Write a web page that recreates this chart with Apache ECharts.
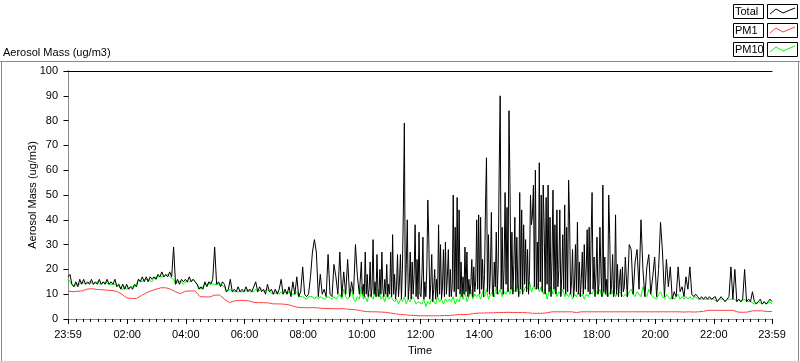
<!DOCTYPE html>
<html><head><meta charset="utf-8">
<script src="https://cdn.jsdelivr.net/npm/echarts@6/dist/echarts.min.js"></script>
<style>html,body{margin:0;padding:0;background:#fff}#c{width:800px;height:361px}</style>
</head><body><div id="c"></div>
<script>
// ---- data (minutes from midnight; the day runs 23:59 -> 23:59) ----
const START_MIN = -1, END_MIN = 1439;

// Total: 23:59 -> 09:59, every 4 minutes
const totalEarlyStart = -1, totalEarlyStep = 4;
const totalEarly = [
 17,18,14,13,15,13,16,14,16,14,15,14,16,14,15,
 14,16,14,15,14,16,14,15,14,16,13,14,12,14,12,
 14,12,13,12,14,13,16,15,17,15,17,15,17,16,17,
 16,18,17,19,17,18,17,19,17,29,14,16,14,16,15,
 16,15,17,15,16,15,14,12,13,12,15,13,15,14,16,
 29,14,15,13,15,14,11,12,16,11,12,11,13,11,12,
 11,13,11,12,11,13,15,11,13,11,12,10,14,11,12,
 10,12,10,12,16,10,12,10,13,9,15,10,17,9,11,
 21,10,9,10,17,27,32,27,9,18,10,12,9,26,10,
 9,22,17,10,27,9,19,10,24,9,15,10,30,17,10,
 23
];
// Total: 10:01 -> 18:59, every 2 minutes
const totalMidStart = 601, totalMidStep = 2;
const totalMid = [
 10,14,9,27,10,18,9,12,23,9,13,32,10,15,9,26,11,9,20,10,27,12,9,16,10,22,9,14,10,27,
 9,34,10,18,8,13,26,9,15,26,8,20,44,79,9,22,40,8,14,27,8,23,10,18,38,9,24,8,35,10,
 9,18,33,8,15,9,21,48,32,8,14,26,7,12,20,8,16,9,38,10,30,8,13,28,9,31,10,17,28,9,
 20,9,14,50,11,37,9,49,12,44,10,23,9,17,10,29,11,27,9,16,10,14,24,9,21,11,15,40,12,42,
 10,41,12,24,9,18,46,65,11,34,10,19,43,12,9,23,13,35,10,22,60,90,12,37,10,20,51,14,45,11,
 84,55,12,35,10,22,41,11,33,13,9,51,12,44,10,38,14,32,11,28,10,19,50,38,42,54,13,60,12,31,
 12,63,15,50,11,54,36,10,49,14,54,11,41,9,24,52,12,38,10,44,13,20,44,9,17,34,12,46,10,37,
 11,56,40,10,15,28,9,13,30,11,39,10,23,9,16,27,10,30,12,20,36,11,37,10,33,51,12,25,9,18,
 33,10,14,37,20,9,54,11,25,10,16,9,50,34,10,14,26,9,12,42,10,22,9,15,20,9,21,11,13,25
];
// Total: 19:03 -> 23:59, every 4 minutes
const totalLateStart = 1143, totalLateStep = 4;
const totalLate = [
 9,30,28,10,23,28,12,40,20,9,21,26,10,17,
 25,9,20,39,27,9,24,13,21,8,11,9,21,11,13,
 9,17,12,21,10,9,10,9,8,9,8,9,8,9,8,
 8,9,7,8,9,8,7,8,9,21,8,20,7,8,7,
 8,20,7,8,7,11,7,6,7,8,6,7,6,7,8,7
];
// PM10: every 4 minutes, 23:59 -> 23:59
const pm10Start = -1, pm10Step = 4;
const pm10Vals = [
 16,16,14,13,14,14,14,15,15,14,14,15,15,14,14,
 15,15,14,14,15,15,14,14,14,14,14,13,13,12,13,
 12,12,13,13,13,14,16,16,15,16,16,16,16,15,16,
 17,17,17,17,17,17,18,17,17,16,14,15,15,15,14,
 15,15,15,15,16,15,14,13,12,13,14,14,14,15,14,
 14,14,14,14,14,13,11,11,12,11,11,11,11,11,11,
 11,11,12,11,11,11,12,11,11,12,11,11,12,11,11,
 10,10,11,10,11,10,11,10,11,10,10,10,11,9,9,
 9,9,8,9,9,9,8,9,8,9,9,8,8,9,9,
 8,9,8,9,10,8,12,9,8,9,12,8,7,9,8,
 13,8,9,7,10,9,8,11,9,12,8,9,7,10,8,
 9,8,7,8,6,8,7,9,6,8,7,9,8,6,7,
 7,6,8,5,7,6,8,7,6,9,7,8,6,8,7,
 8,7,9,6,8,7,10,8,11,7,9,12,8,10,9,
 10,8,11,9,12,8,10,11,9,13,10,12,9,11,10,
 12,10,13,11,12,14,10,12,11,13,12,15,11,13,12,
 14,11,13,10,12,8,11,13,10,12,9,11,10,12,9,
 10,9,11,8,10,9,11,9,10,8,10,9,11,10,12,
 11,10,12,9,11,10,9,11,10,12,9,10,11,10,9,
 10,9,11,12,10,9,11,10,9,13,10,9,12,10,9,
 9,8,10,11,9,8,10,9,8,9,8,9,10,8,9,
 8,9,8,9,8,8,9,8,8,8,8,8,8,8,8,
 8,8,7,8,8,8,7,8,8,8,8,8,7,8,7,
 7,8,7,7,7,7,6,6,7,7,6,7,6,6,7,6
];
// PM1: every 10 minutes, 23:59 -> 23:59
const pm1Start = -1, pm1Step = 10;
const pm1Vals = [
 11.3,11.0,11.2,11.4,12.1,12.2,
 11.9,11.8,11.6,11.5,11.1,10.0,
 8.5,8.3,8.3,9.4,10.5,11.4,
 12.0,12.6,12.6,12.0,11.0,10.2,
 11.2,11.3,11.3,9.0,8.9,8.9,
 9.6,9.7,8.0,6.6,7.3,7.5,
 7.5,7.3,6.7,6.6,6.6,6.5,
 6.1,6.1,6.0,5.8,5.2,4.7,
 4.6,4.5,4.6,4.5,4.3,4.2,
 4.2,4.1,4.2,4.0,3.8,3.7,
 3.3,3.0,2.9,2.9,2.8,2.7,
 2.4,2.1,1.8,1.7,1.5,1.4,
 1.3,1.3,1.3,1.3,1.3,1.4,
 1.4,1.6,1.8,1.8,1.9,2.2,
 2.4,2.4,2.5,2.5,2.6,2.6,
 2.7,2.6,2.6,2.6,2.5,2.3,
 2.3,2.3,2.5,2.9,2.9,2.9,
 2.9,2.9,2.6,2.9,2.9,2.9,
 2.9,2.9,2.9,2.9,2.9,2.9,
 2.9,2.9,2.9,2.9,2.9,2.9,
 2.9,2.9,2.9,2.9,2.9,2.9,
 2.8,2.9,2.8,2.9,3.1,3.5,
 3.5,3.5,3.5,3.5,3.5,2.8,
 2.7,2.8,3.3,3.3,3.3,3.0,3.0
];
const xLabelValues = [-1,120,240,360,480,600,720,840,960,1080,1200,1320,1439];
const yMin = 0, yMax = 100, yInterval = 10;
const seriesNames = ['Total','PM1','PM10'];
const seriesColors = {Total:'#000000', PM1:'#ff4040', PM10:'#00ff00'};

// ---- build ----
function pairs(vals, start, step){ return vals.map((v,i)=>[start + i*step, v]); }
const totalData = pairs(totalEarly, totalEarlyStart, totalEarlyStep)
  .concat(pairs(totalMid, totalMidStart, totalMidStep))
  .concat(pairs(totalLate, totalLateStart, totalLateStep));
const minorTicks = [-1]; for (let m=0; m<=1425; m+=15) minorTicks.push(m); minorTicks.push(1439);
const pad = n => (n<10?'0':'')+n;
const fmtTime = v => (v<0 || v>=1439) ? '23:59' : pad(Math.floor(v/60))+':'+pad(v%60);
const FONT = 'Liberation Sans';
const txt = {fontFamily:FONT, fontSize:11, color:'#000'};

const chart = echarts.init(document.getElementById('c'), null, {renderer:'canvas'});
const legendRows = seriesNames.map((n,k)=>{
  const y0 = 4 + k*19;
  const c = seriesColors[n];
  return [
    {type:'rect', shape:{x:733.5,y:y0+0.5,width:30,height:14}, style:{fill:'#fff',stroke:'#000',lineWidth:1}},
    {type:'text', x:735, y:y0+2, style:{text:n, font:'11px '+FONT, fill:'#000'}},
    {type:'rect', shape:{x:767.5,y:y0+0.5,width:30,height:14}, style:{fill:'#fff',stroke:'#000',lineWidth:1}},
    {type:'polyline', shape:{points:[[770,y0+10],[776,y0+5],[783,y0+9],[790,y0+6],[795,y0+4]]}, style:{stroke:c,lineWidth:1,fill:null}}
  ];
}).flat();

chart.setOption({
  animation:false,
  backgroundColor:'#fff',
  grid:{left:68, top:71, width:704, height:250.5, containLabel:false},
  xAxis:[
    {type:'value', min:START_MIN, max:END_MIN, position:'bottom',
     name:'Time', nameLocation:'middle', nameGap:26, nameMoveOverlap:false, nameTextStyle:txt,
     axisLine:{show:true, lineStyle:{color:'#8a8a8a', width:1}},
     axisTick:{show:true, customValues:xLabelValues, length:5, lineStyle:{color:'#000'}},
     axisLabel:{show:true, customValues:xLabelValues, formatter:fmtTime, margin:10, ...txt, showMinLabel:true, showMaxLabel:true},
     splitLine:{show:false}},
    {type:'value', min:START_MIN, max:END_MIN, position:'bottom', gridIndex:0,
     axisLine:{show:false}, axisLabel:{show:false}, splitLine:{show:false},
     axisTick:{show:true, customValues:minorTicks, length:3, lineStyle:{color:'#000'}}},
    {type:'value', min:START_MIN, max:END_MIN, position:'top', gridIndex:0,
     axisLine:{show:true, lineStyle:{color:'#000'}}, axisTick:{show:false}, axisLabel:{show:false}, splitLine:{show:false}}
  ],
  yAxis:[
    {type:'value', min:yMin, max:yMax, interval:yInterval, position:'left',
     name:'Aerosol Mass (ug/m3)', nameLocation:'middle', nameGap:30, nameRotate:90, nameMoveOverlap:false, nameTextStyle:txt,
     axisLine:{show:true, lineStyle:{color:'#000'}},
     axisTick:{show:true, length:5, lineStyle:{color:'#000'}},
     axisLabel:{margin:10, ...txt}, splitLine:{show:false}},
    {type:'value', min:yMin, max:yMax, position:'right',
     axisLine:{show:true, lineStyle:{color:'#8a8a8a'}}, axisTick:{show:false}, axisLabel:{show:false}, splitLine:{show:false}}
  ],
  series:[
    {name:'PM10', type:'line', data:pairs(pm10Vals, pm10Start, pm10Step), showSymbol:false, symbol:'none',
     lineStyle:{color:seriesColors.PM10, width:1}, itemStyle:{color:seriesColors.PM10}, z:2},
    {name:'Total', type:'line', data:totalData, showSymbol:false, symbol:'none',
     lineStyle:{color:seriesColors.Total, width:1}, itemStyle:{color:seriesColors.Total}, z:3},
    {name:'PM1', type:'line', data:pairs(pm1Vals, pm1Start, pm1Step), showSymbol:false, symbol:'none',
     lineStyle:{color:seriesColors.PM1, width:1}, itemStyle:{color:seriesColors.PM1}, z:4}
  ],
  graphic:[
    {type:'text', x:3, y:47, style:{text:'Aerosol Mass (ug/m3)', font:'11px '+FONT, fill:'#000'}},
    {type:'line', shape:{x1:0,y1:61.5,x2:800,y2:61.5}, style:{stroke:'#8a8a8a',lineWidth:1}},
    {type:'line', shape:{x1:1.5,y1:61,x2:1.5,y2:361}, style:{stroke:'#8a8a8a',lineWidth:1}},
    {type:'line', shape:{x1:798.5,y1:61,x2:798.5,y2:361}, style:{stroke:'#8a8a8a',lineWidth:1}},
    ...legendRows
  ]
});
</script></body></html>
